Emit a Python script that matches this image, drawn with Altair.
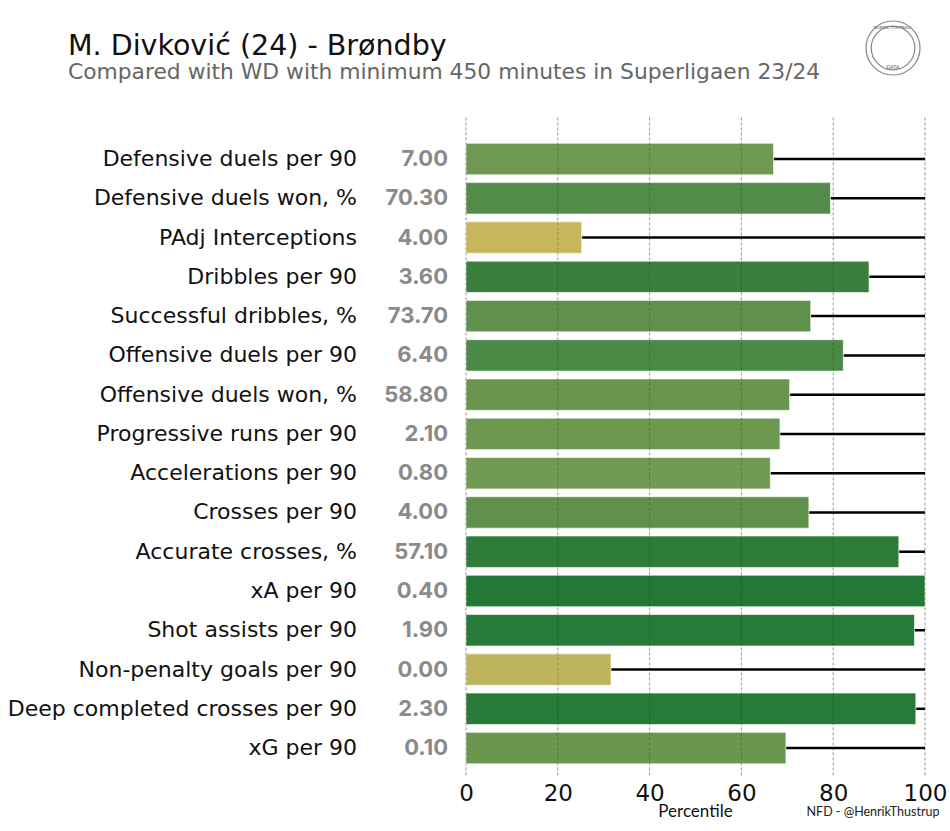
import altair as alt
import pandas as pd

metrics = [
    "Defensive duels per 90",
    "Defensive duels won, %",
    "PAdj Interceptions",
    "Dribbles per 90",
    "Successful dribbles, %",
    "Offensive duels per 90",
    "Offensive duels won, %",
    "Progressive runs per 90",
    "Accelerations per 90",
    "Crosses per 90",
    "Accurate crosses, %",
    "xA per 90",
    "Shot assists per 90",
    "Non-penalty goals per 90",
    "Deep completed crosses per 90",
    "xG per 90",
]
values = ["7.00", "70.30", "4.00", "3.60", "73.70", "6.40", "58.80", "2.10",
          "0.80", "4.00", "57.10", "0.40", "1.90", "0.00", "2.30", "0.10"]
percentiles = [67.0, 79.4, 25.2, 87.8, 75.1, 82.2, 70.5, 68.4,
               66.3, 74.7, 94.3, 100.0, 97.7, 31.6, 98.0, 69.7]
ticks = [0, 20, 40, 60, 80, 100]

title_text = "M. Divković (24) - Brøndby"
subtitle_text = "Compared with WD with minimum 450 minutes in Superligaen 23/24"
x_title = "Percentile"
credit = "NFD - @HenrikThustrup"

W = 459
H = 628.3
LEFT = 466
TOP = 139.4

df = pd.DataFrame({"metric": metrics, "value": values, "pct": percentiles})

yenc = alt.Y("metric:N", sort=metrics, axis=None,
             scale=alt.Scale(paddingInner=0.2, paddingOuter=0.1))
xscale = alt.Scale(domain=[0, 100], nice=False, zero=True)

base = alt.Chart(df)

lines = base.mark_rule(color="black", strokeWidth=2.5).encode(
    x=alt.X("pct:Q", scale=xscale,
            axis=alt.Axis(values=ticks, grid=False, domain=False, ticks=False,
                          labelFont="DejaVu Sans", labelFontSize=23,
                          labelColor="#111111", labelPadding=15, title=None,
                          labelFlush=False)),
    x2=alt.datum(100),
    y=yenc,
)

bars = base.mark_bar(stroke="white", strokeWidth=1, strokeOpacity=0.6).encode(
    x=alt.X("pct:Q", scale=xscale),
    y=yenc,
    color=alt.Color("pct:Q", legend=None,
                    scale=alt.Scale(domain=[0, 25, 31.6, 50, 67, 75, 82, 88, 100],
                                    range=["#d2b95a", "#c6b65c", "#bdb45e", "#97a758",
                                           "#6f9952", "#5f914c", "#4c8946", "#3a7f3f",
                                           "#227936"])),
)

grid = alt.Chart(pd.DataFrame({"t": ticks})).mark_rule(
    color="black", strokeOpacity=0.22, strokeDash=[3, 2], strokeWidth=1
).encode(x=alt.X("t:Q", scale=xscale), y=alt.value(-22), y2=alt.value(H + 9))

labels = base.mark_text(align="right", baseline="middle", font="DejaVu Sans",
                        fontSize=22, color="#111111").encode(
    y=yenc, x=alt.value(357 - LEFT), text="metric:N")

vals = base.mark_text(align="right", baseline="middle", font="Inter",
                      fontWeight="bold", fontSize=22, color="#8a8a8a").encode(
    y=yenc, x=alt.value(448 - LEFT), text="value:N")

def single_text(txt, x, y, **kw):
    return alt.Chart(pd.DataFrame({"t": [txt]})).mark_text(**kw).encode(
        x=alt.value(x), y=alt.value(y), text="t:N")

title = single_text(title_text, 68 - LEFT, 55 - TOP, align="left",
                    baseline="alphabetic", font="DejaVu Sans", fontSize=28.5,
                    color="#111111")
subtitle = single_text(subtitle_text, 68 - LEFT, 79 - TOP, align="left",
                       baseline="alphabetic", font="DejaVu Sans", fontSize=21.8,
                       color="#666666")
xtitle = single_text(x_title, W / 2, 812 - TOP, align="center",
                     baseline="middle", font="Lato", fontSize=17,
                     color="#111111")
credit_t = single_text(credit, 873 - LEFT, 812 - TOP, align="center",
                       baseline="middle", font="Lato", fontSize=12.5,
                       color="#222222")

logo_df = pd.DataFrame({"s": [2916, 1900]})
logo = alt.Chart(logo_df).mark_point(shape="circle", filled=False,
                                      color="#555555", strokeWidth=1.2).encode(
    x=alt.value(893 - LEFT), y=alt.value(48 - TOP),
    size=alt.Size("s:Q", scale=None, legend=None))
logo_text = single_text("DATA", 893 - LEFT, 67 - TOP, align="center",
                        baseline="middle", font="DejaVu Sans", fontSize=5,
                        color="#555555")
logo_top = single_text("NORDIC FOOTBALL", 893 - LEFT, 28 - TOP, align="center",
                       baseline="middle", font="DejaVu Sans", fontSize=4,
                       color="#555555")

chart = alt.layer(
    grid, lines, bars, grid, labels, vals, title, subtitle, xtitle, credit_t,
    logo, logo_text, logo_top
).properties(
    width=W, height=H,
    autosize=alt.AutoSizeParams(type="none"),
    padding={"left": LEFT, "top": TOP, "right": 950 - LEFT - W,
             "bottom": 831 - TOP - H},
    background="white",
).configure_view(stroke=None)

chart.save("out.html", embed_options={"renderer": "svg", "actions": False})
